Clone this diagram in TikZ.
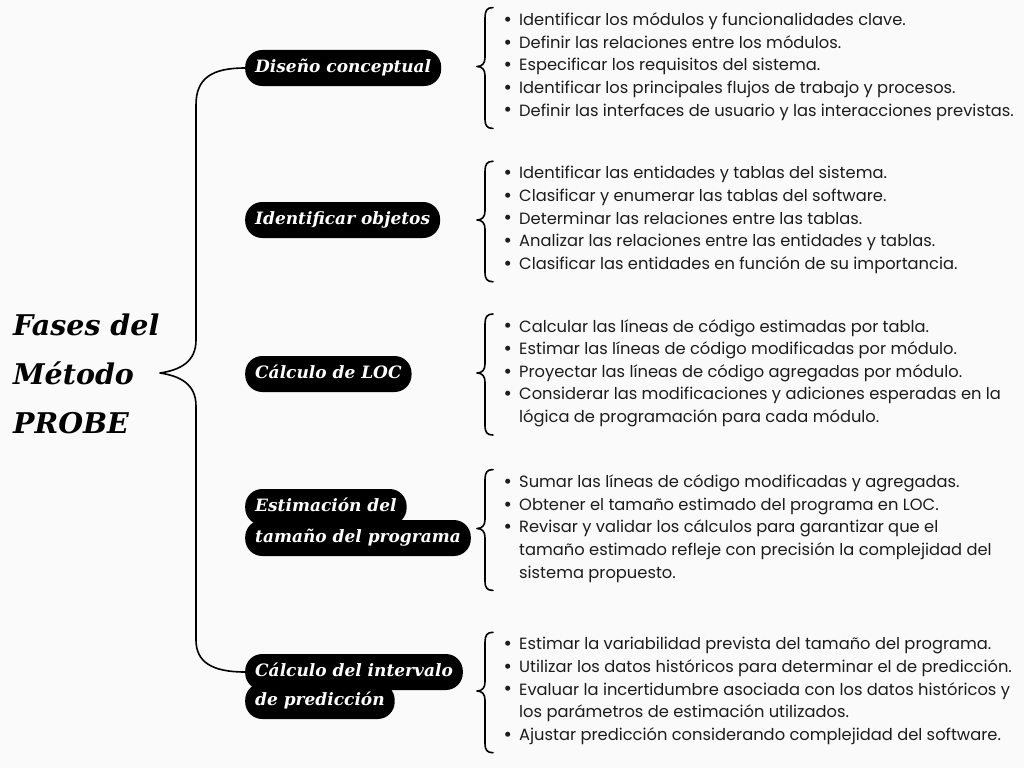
\documentclass[tikz,border=0pt]{standalone}
\usepackage{fontspec}
\usetikzlibrary{calc}
\newfontfamily\popfont{Poppins}
\newfontfamily\serfont{DejaVu Serif}
\definecolor{bgc}{HTML}{FAFAFA}
\definecolor{txt}{HTML}{1C1C1C}
\tikzset{
  brc/.style={line width=1.6pt, line cap=round, line join=round},
  lab/.style={fill=black, text=white, rounded corners=17pt, minimum height=36pt,
     inner xsep=10pt, inner ysep=0pt, anchor=west, text height=0.95em, text depth=0.13em,
     font=\serfont\bfseries\itshape\fontsize{17}{20}\selectfont},
  grp/.style={anchor=west, inner sep=0pt, align=left, text=txt,
     font=\popfont\fontsize{16.3}{22.6}\selectfont},
  ttl/.style={anchor=west, inner sep=0pt, align=left,
     font=\serfont\bfseries\itshape\fontsize{28.5}{49}\selectfont}
}
\newcommand\bul{\makebox[19pt][l]{\kern3.5pt\raisebox{-0.05em}{\scalebox{1.25}{\textbullet}}}}
\newcommand\ind{\makebox[19pt][l]{}}
\begin{document}
\begin{tikzpicture}[x=1pt,y=-1pt]
\fill[bgc] (0,0) rectangle (1024,768);
\useasboundingbox (0,0) rectangle (1024,768);

\node[ttl] (title) at (13,374) {Fases del\\Método\\PROBE};
\coordinate (tip) at (160,373);

\node[lab] (d1) at (245,68) {Diseño conceptual};
\node[lab] (d2) at (245,220) {Identificar objetos};
\node[lab] (d3) at (245,374) {Cálculo de LOC};
\node[lab] (d4b) at (245,538) {tamaño del programa};
\node[lab] (d4a) at (245,507) {Estimación del};
\node[lab] (d5b) at (245,701) {de predicción};
\node[lab] (d5a) at (245,672) {Cálculo del intervalo};

\node[grp] (g1) at (500,66.5) {\bul Identificar los módulos y funcionalidades clave.\\
\bul Definir las relaciones entre los módulos.\\
\bul Especificar los requisitos del sistema.\\
\bul Identificar los principales flujos de trabajo y procesos.\\
\bul Definir las interfaces de usuario y las interacciones previstas.};

\node[grp] (g2) at (500,220) {\bul Identificar las entidades y tablas del sistema.\\
\bul Clasificar y enumerar las tablas del software.\\
\bul Determinar las relaciones entre las tablas.\\
\bul Analizar las relaciones entre las entidades y tablas.\\
\bul Clasificar las entidades en función de su importancia.};

\node[grp] (g3) at (500,373) {\bul Calcular las líneas de código estimadas por tabla.\\
\bul Estimar las líneas de código modificadas por módulo.\\
\bul Proyectar las líneas de código agregadas por módulo.\\
\bul Considerar las modificaciones y adiciones esperadas en la\\
\ind lógica de programación para cada módulo.};

\node[grp] (g4) at (500,528.5) {\bul Sumar las líneas de código modificadas y agregadas.\\
\bul Obtener el tamaño estimado del programa en LOC.\\
\bul Revisar y validar los cálculos para garantizar que el\\
\ind tamaño estimado refleje con precisión la complejidad del\\
\ind sistema propuesto.};

\node[grp] (g5) at (500,691) {\bul Estimar la variabilidad prevista del tamaño del programa.\\
\bul Utilizar los datos históricos para determinar el de predicción.\\
\bul Evaluar la incertidumbre asociada con los datos históricos y\\
\ind los parámetros de estimación utilizados.\\
\bul Ajustar predicción considerando complejidad del software.};

% main brace
\draw[brc] (d1.west) .. controls (212,68) and (196,78) .. (196,105)
  -- (196,340) .. controls (196,362) and (180,370) .. (tip)
  .. controls (180,376) and (196,384) .. (196,406)
  -- (196,640) .. controls (196,662) and (212,672) .. (d5a.west);

% group braces
\foreach \g in {g1,g2,g3,g4,g5}{
  \draw[brc] let \p1=(\g.north), \p2=(\g.south), \p3=(\g.west) in
    (493,\y1+5pt) .. controls (487,\y1+5pt) and (485,\y1+2pt) .. (485,\y1-5pt)
    -- (485,\y3+9pt) .. controls (485,\y3+3pt) and (482,\y3) .. (477,\y3)
    .. controls (482,\y3) and (485,\y3-3pt) .. (485,\y3-9pt)
    -- (485,\y2+1pt) .. controls (485,\y2-5pt) and (487,\y2-8pt) .. (493,\y2-8pt);
}
\end{tikzpicture}
\end{document}
